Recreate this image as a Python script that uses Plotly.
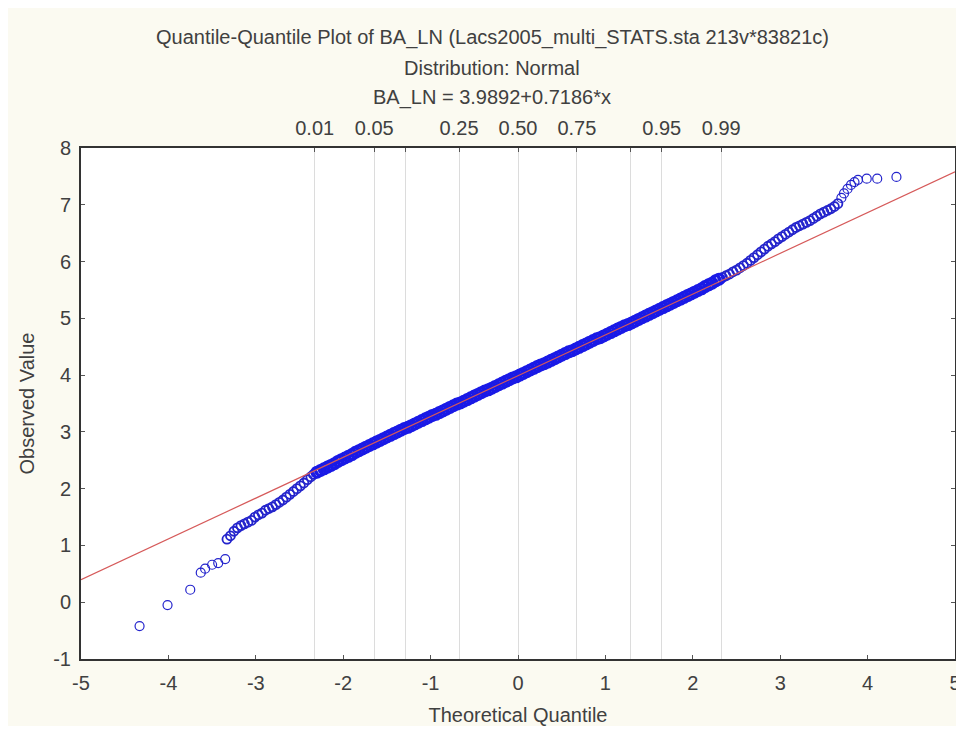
import plotly.graph_objects as go

# ---- data ----
# lower tail (individual points)
tail_lo_x = [-4.33, -4.01, -3.75, -3.63, -3.58, -3.50, -3.43, -3.35,
             -3.33, -3.29, -3.25, -3.21, -3.17, -3.13, -3.09, -3.05, -3.01, -2.97,
             -2.93, -2.89, -2.85, -2.81, -2.77, -2.73, -2.69, -2.65, -2.61, -2.57,
             -2.53, -2.49, -2.45, -2.41, -2.37, -2.34]
tail_lo_y = [-0.42, -0.05, 0.22, 0.52, 0.59, 0.66, 0.69, 0.76,
             1.11, 1.17, 1.25, 1.31, 1.35, 1.38, 1.41, 1.44, 1.50, 1.54,
             1.57, 1.62, 1.65, 1.68, 1.72, 1.76, 1.80, 1.85, 1.90, 1.95,
             2.00, 2.05, 2.10, 2.16, 2.21, 2.25]

# central band
mid_x = [-2.30, -2.26, -2.22, -2.18, -2.14, -2.10, -2.06, -2.02, -1.98, -1.94,
         -1.90, -1.86, -1.82, -1.78, -1.74, -1.70, -1.66, -1.62, -1.58, -1.54,
         -1.50, -1.46, -1.42, -1.38, -1.34, -1.30, -1.26, -1.22, -1.18, -1.14,
         -1.10, -1.06, -1.02, -0.98, -0.94, -0.90, -0.86, -0.82, -0.78, -0.74,
         -0.70, -0.66, -0.62, -0.58, -0.54, -0.50, -0.46, -0.42, -0.38, -0.34,
         -0.30, -0.26, -0.22, -0.18, -0.14, -0.10, -0.06, -0.02, 0.02, 0.06,
         0.10, 0.14, 0.18, 0.22, 0.26, 0.30, 0.34, 0.38, 0.42, 0.46,
         0.50, 0.54, 0.58, 0.62, 0.66, 0.70, 0.74, 0.78, 0.82, 0.86,
         0.90, 0.94, 0.98, 1.02, 1.06, 1.10, 1.14, 1.18, 1.22, 1.26,
         1.30, 1.34, 1.38, 1.42, 1.46, 1.50, 1.54, 1.58, 1.62, 1.66,
         1.70, 1.74, 1.78, 1.82, 1.86, 1.90, 1.94, 1.98, 2.02, 2.06,
         2.10, 2.14, 2.18, 2.22, 2.26, 2.30]
mid_y = [2.29, 2.32, 2.35, 2.38, 2.41, 2.44, 2.48, 2.51, 2.54, 2.57,
         2.60, 2.64, 2.67, 2.70, 2.73, 2.76, 2.79, 2.82, 2.85, 2.88,
         2.91, 2.94, 2.97, 3.00, 3.03, 3.06, 3.08, 3.11, 3.14, 3.17,
         3.20, 3.23, 3.26, 3.29, 3.31, 3.34, 3.37, 3.40, 3.43, 3.46,
         3.49, 3.51, 3.54, 3.57, 3.60, 3.63, 3.66, 3.69, 3.72, 3.74,
         3.77, 3.80, 3.83, 3.86, 3.89, 3.92, 3.95, 3.97, 4.00, 4.03,
         4.06, 4.09, 4.12, 4.15, 4.18, 4.20, 4.23, 4.26, 4.29, 4.32,
         4.35, 4.38, 4.41, 4.43, 4.46, 4.49, 4.52, 4.55, 4.58, 4.61,
         4.64, 4.66, 4.69, 4.72, 4.75, 4.78, 4.81, 4.84, 4.87, 4.89,
         4.92, 4.95, 4.98, 5.01, 5.04, 5.07, 5.10, 5.13, 5.16, 5.19,
         5.22, 5.25, 5.28, 5.31, 5.34, 5.37, 5.40, 5.43, 5.46, 5.49,
         5.52, 5.56, 5.59, 5.62, 5.66, 5.69]

# upper tail
tail_hi_x = [2.34, 2.38, 2.42, 2.46, 2.50, 2.54, 2.58, 2.62, 2.66, 2.70,
             2.74, 2.78, 2.82, 2.86, 2.90, 2.94, 2.98, 3.02, 3.06, 3.10,
             3.14, 3.18, 3.22, 3.26, 3.30, 3.34, 3.38, 3.42, 3.46, 3.50,
             3.54, 3.58, 3.62, 3.66, 3.70, 3.73, 3.77, 3.81, 3.85, 3.89,
             3.99, 4.11, 4.33]
tail_hi_y = [5.72, 5.75, 5.78, 5.82, 5.85, 5.89, 5.93, 5.97, 6.02, 6.07,
             6.12, 6.17, 6.22, 6.27, 6.31, 6.35, 6.40, 6.44, 6.48, 6.52,
             6.56, 6.60, 6.63, 6.66, 6.69, 6.72, 6.76, 6.80, 6.84, 6.87,
             6.90, 6.93, 6.97, 7.02, 7.12, 7.20, 7.28, 7.35, 7.40, 7.44,
             7.46, 7.46, 7.49]

fit_intercept = 3.9892
fit_slope = 0.7186
fit_x = [-5, 5]

quantile_z = [-2.326, -1.645, -1.282, -0.674, 0.0, 0.674, 1.282, 1.645, 2.326]
quantile_labels = ["0.01", "0.05", "", "0.25", "0.50", "0.75", "", "0.95", "0.99"]

x_ticks = [-5, -4, -3, -2, -1, 0, 1, 2, 3, 4, 5]
x_tick_text = ["-5", "-4", "-3", "-2", "-1", "0", "1", "2", "3", "4", "5"]
y_ticks = [-1, 0, 1, 2, 3, 4, 5, 6, 7, 8]
y_tick_text = ["-1", "0", "1", "2", "3", "4", "5", "6", "7", "8"]

# ---- figure ----
fit_y = [fit_intercept + fit_slope * v for v in fit_x]

font_family = "Liberation Sans, Arial, sans-serif"
txt_color = "#404040"
pt_color = "#2424CC"

# page body adds 8px around the figure; keep the figure inside the window
W, H = 948, 718
ML, MR, MT, MB = 73, 1, 140, 67
plot_h = H - MT - MB
plot_w = W - ML - MR

fig = go.Figure()

# invisible trace to activate top axis
fig.add_trace(go.Scatter(x=[-5, 5], y=[None, None], xaxis="x2", yaxis="y",
                         mode="markers", showlegend=False, hoverinfo="skip"))

# sparse tails: thin rings
fig.add_trace(go.Scatter(
    x=tail_lo_x[:8] + tail_hi_x[-9:], y=tail_lo_y[:8] + tail_hi_y[-9:],
    mode="markers", showlegend=False,
    marker=dict(symbol="circle-open", size=9, color=pt_color,
                line=dict(width=1.2, color=pt_color)),
))
# chained parts of the tails
fig.add_trace(go.Scatter(
    x=tail_lo_x[8:] + tail_hi_x[:-9], y=tail_lo_y[8:] + tail_hi_y[:-9],
    mode="markers", showlegend=False,
    marker=dict(symbol="circle-open", size=9, color=pt_color,
                line=dict(width=1.8, color=pt_color)),
))
# dense central band
fig.add_trace(go.Scatter(
    x=mid_x, y=mid_y, mode="markers", showlegend=False,
    marker=dict(symbol="circle-open", size=10, color="#1A1AE6",
                line=dict(width=3, color="#1A1AE6")),
))
fig.add_trace(go.Scatter(
    x=fit_x, y=fit_y, mode="lines", showlegend=False,
    line=dict(color="#D65A5A", width=1.2),
))

fig.update_layout(
    width=W, height=H,
    margin=dict(l=ML, r=MR, t=MT, b=MB, autoexpand=False),
    paper_bgcolor="#FBFAF1",
    plot_bgcolor="#FFFFFF",
    font=dict(family=font_family, color=txt_color, size=20),
    xaxis=dict(
        range=[-5, 5], tickvals=x_ticks, ticktext=x_tick_text,
        ticks="inside", ticklen=4, automargin=False, ticklabelstandoff=5,
        ticklabeloverflow="allow",
        tickcolor="#555555", showgrid=False, zeroline=False,
        showline=True, linecolor="#333333", linewidth=2, mirror=True,
        tickfont=dict(size=20), title=dict(text="Theoretical Quantile",
                                           font=dict(size=20), standoff=17),
    ),
    xaxis2=dict(
        range=[-5, 5], overlaying="x", side="top", anchor="y",
        tickvals=quantile_z, ticktext=quantile_labels, automargin=False,
        ticks="inside", ticklen=4, tickcolor="#555555",
        showgrid=True, gridcolor="#DCDCDC", gridwidth=1,
        zeroline=False, showline=False, tickfont=dict(size=20),
        ticklabelstandoff=8,
    ),
    yaxis=dict(
        range=[-1, 8], tickvals=y_ticks, ticktext=y_tick_text,
        ticks="inside", ticklen=4, automargin=False, ticklabelstandoff=4,
        tickcolor="#555555", showgrid=False, zeroline=False,
        showline=True, linecolor="#333333", linewidth=2, mirror="ticks",
        tickfont=dict(size=20), title=dict(text="Observed Value",
                                           font=dict(size=20), standoff=13),
    ),
)

titles = [
    ("Quantile-Quantile Plot of BA_LN (Lacs2005_multi_STATS.sta 213v*83821c)", 30),
    ("Distribution: Normal", 60),
    ("BA_LN = 3.9892+0.7186*x", 90),
]
for text, ypx in titles:
    fig.add_annotation(text=text, xref="paper", yref="paper",
                       x=(484 - ML) / plot_w, y=(H - MB - ypx) / plot_h,
                       showarrow=False, font=dict(size=20, color=txt_color),
                       xanchor="center", yanchor="middle")

fig.write_html("out.html")
